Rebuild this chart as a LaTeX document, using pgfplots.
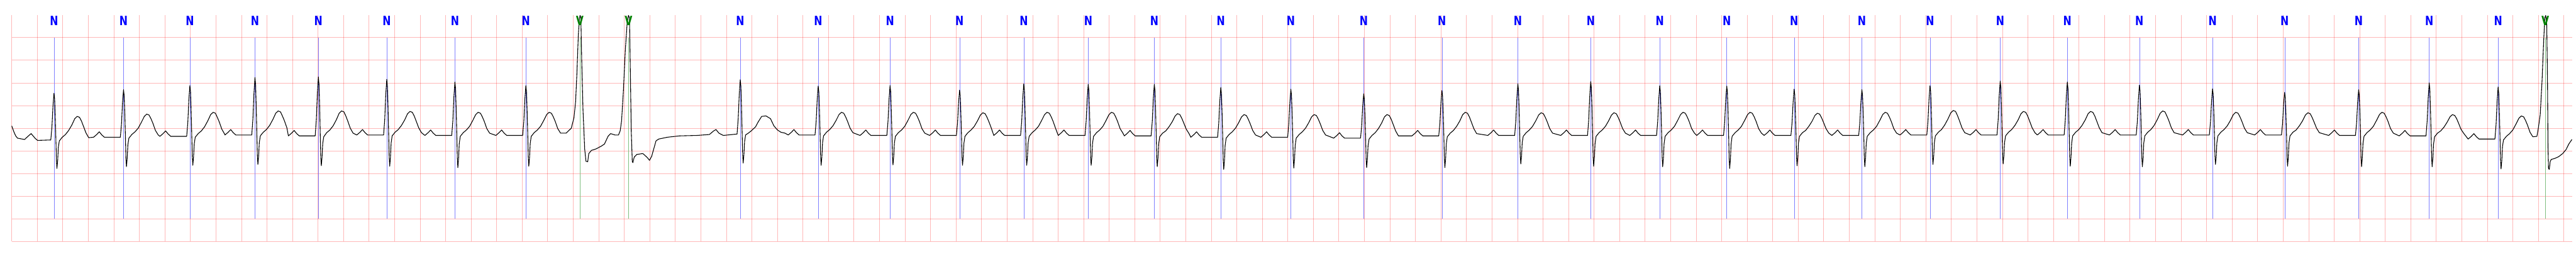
\documentclass[border=0pt]{standalone}
\usepackage{pgfplots}
\pgfplotsset{compat=1.18}
\usepackage{graphicx}
\usepackage{fontspec}
\newfontfamily\labfont{DejaVu Sans}
\begin{document}
\begin{tikzpicture}
\useasboundingbox (0,0) rectangle (752.3pt,75pt);
\begin{axis}[
  at={(3.43pt,4.43pt)}, anchor=south west,
  scale only axis, width=747.77pt, height=66.14pt,
  xmin=0, xmax=20.066, ymin=-2.5, ymax=2.495,
  xtick distance=0.2, ytick={-2.5,-2,-1.5,-1,-0.5,0,0.5,1,1.5,2},
  xticklabels={}, yticklabels={},
  major tick length=0pt,
  axis line style={draw=none},
  grid=major,
  grid style={red, opacity=0.28, line width=0.13pt},
  clip=false,
]
% beat annotation lines
\addplot[draw=none, mark=none,
  error bars/.cd, y dir=both, y fixed=2, error mark=none,
  error bar style={draw=blue!50, line width=0.07pt, solid}]
  coordinates {(0.331,0)(0.876,0)(1.396,0)(1.906,0)(2.403,0)(2.939,0)(3.473,0)(4.029,0)(5.709,0)(6.320,0)(6.883,0)(7.428,0)(7.931,0)(8.436,0)(8.954,0)(9.475,0)(10.024,0)(10.595,0)(11.208,0)(11.803,0)(12.374,0)(12.915,0)(13.440,0)(13.968,0)(14.499,0)(15.033,0)(15.583,0)(16.109,0)(16.674,0)(17.247,0)(17.812,0)(18.392,0)(18.945,0)(19.485,0)};
\addplot[draw=none, mark=none,
  error bars/.cd, y dir=both, y fixed=2, error mark=none,
  error bar style={draw={rgb,1:red,0.5;green,0.75;blue,0.5}, line width=0.07pt, solid}]
  coordinates {(4.452,0)(4.834,0)(19.855,0)};
% ECG trace
\addplot[black, line width=0.2pt, line join=round] coordinates {
(0.000,0.05)(0.018,-0.09)(0.031,-0.17)(0.045,-0.22)(0.100,-0.25)(0.127,-0.18)(0.152,-0.12)(0.182,-0.22)(0.202,-0.27)
(0.306,-0.26)(0.315,0.03)(0.323,0.48)(0.331,0.77)(0.336,0.65)(0.341,0.26)(0.346,-0.26)(0.350,-0.71)(0.354,-0.89)(0.360,-0.71)(0.365,-0.42)(0.373,-0.28)
(0.396,-0.20)(0.421,-0.14)(0.446,-0.05)(0.471,0.07)(0.494,0.21)(0.513,0.26)(0.531,0.24)(0.546,0.16)(0.561,0.05)(0.581,-0.10)(0.603,-0.21)
(0.641,-0.20)(0.666,-0.14)(0.686,-0.08)(0.706,-0.15)(0.726,-0.20)
(0.851,-0.20)(0.860,0.09)(0.868,0.56)(0.876,0.85)(0.881,0.72)(0.886,0.33)(0.891,-0.20)(0.895,-0.66)(0.899,-0.85)(0.905,-0.66)(0.910,-0.37)(0.918,-0.22)
(0.941,-0.14)(0.966,-0.08)(0.991,0.00)(1.016,0.13)(1.039,0.26)(1.058,0.31)(1.076,0.29)(1.091,0.21)(1.106,0.11)(1.126,-0.05)(1.148,-0.15)
(1.161,-0.18)(1.186,-0.12)(1.206,-0.06)(1.226,-0.13)(1.246,-0.18)
(1.371,-0.18)(1.380,0.13)(1.388,0.63)(1.396,0.94)(1.401,0.81)(1.406,0.38)(1.411,-0.18)(1.415,-0.63)(1.419,-0.82)(1.425,-0.63)(1.430,-0.35)(1.438,-0.20)
(1.461,-0.12)(1.486,-0.06)(1.511,0.03)(1.536,0.16)(1.559,0.30)(1.578,0.35)(1.596,0.33)(1.611,0.24)(1.626,0.14)(1.646,-0.02)(1.668,-0.13)
(1.671,-0.15)(1.696,-0.09)(1.716,-0.03)(1.736,-0.10)(1.756,-0.15)
(1.881,-0.15)(1.890,0.21)(1.898,0.76)(1.906,1.12)(1.911,0.97)(1.916,0.49)(1.921,-0.15)(1.925,-0.61)(1.929,-0.80)(1.935,-0.61)(1.940,-0.32)(1.948,-0.17)
(1.971,-0.09)(1.996,-0.03)(2.021,0.06)(2.046,0.19)(2.069,0.33)(2.088,0.38)(2.106,0.36)(2.121,0.27)(2.136,0.17)(2.156,0.01)
(2.168,-0.17)(2.193,-0.11)(2.213,-0.05)(2.233,-0.12)(2.253,-0.17)
(2.378,-0.17)(2.387,0.19)(2.395,0.77)(2.403,1.13)(2.408,0.97)(2.413,0.48)(2.418,-0.17)(2.422,-0.64)(2.426,-0.83)(2.432,-0.64)(2.437,-0.34)(2.445,-0.19)
(2.468,-0.10)(2.493,-0.04)(2.518,0.05)(2.543,0.18)(2.566,0.33)(2.585,0.38)(2.603,0.36)(2.618,0.27)(2.633,0.16)(2.653,0.00)(2.675,-0.11)
(2.704,-0.15)(2.729,-0.09)(2.749,-0.03)(2.769,-0.10)(2.789,-0.15)
(2.914,-0.15)(2.923,0.19)(2.931,0.74)(2.939,1.08)(2.944,0.93)(2.949,0.47)(2.954,-0.15)(2.958,-0.64)(2.962,-0.84)(2.968,-0.64)(2.973,-0.33)(2.981,-0.17)
(3.004,-0.09)(3.029,-0.03)(3.054,0.06)(3.079,0.18)(3.102,0.32)(3.121,0.37)(3.139,0.35)(3.154,0.27)(3.169,0.16)(3.189,0.01)(3.211,-0.10)
(3.238,-0.16)(3.263,-0.10)(3.283,-0.04)(3.303,-0.11)(3.323,-0.16)
(3.448,-0.16)(3.457,0.17)(3.465,0.69)(3.473,1.02)(3.478,0.88)(3.483,0.43)(3.488,-0.16)(3.492,-0.66)(3.496,-0.87)(3.502,-0.66)(3.507,-0.34)(3.515,-0.18)
(3.538,-0.10)(3.563,-0.04)(3.588,0.04)(3.613,0.17)(3.636,0.30)(3.655,0.35)(3.673,0.33)(3.688,0.25)(3.703,0.15)(3.723,-0.01)(3.745,-0.11)
(3.794,-0.16)(3.819,-0.10)(3.839,-0.04)(3.859,-0.11)(3.879,-0.16)
(4.004,-0.16)(4.013,0.15)(4.021,0.63)(4.029,0.94)(4.034,0.81)(4.039,0.39)(4.044,-0.16)(4.048,-0.64)(4.052,-0.84)(4.058,-0.64)(4.063,-0.34)(4.071,-0.18)
(4.094,-0.10)(4.119,-0.04)(4.144,0.04)(4.169,0.17)(4.192,0.30)(4.211,0.35)(4.229,0.33)(4.244,0.25)(4.259,0.15)(4.279,-0.01)(4.301,-0.11)
(4.344,-0.11)(4.385,0.00)(4.406,0.23)(4.419,0.59)(4.429,1.21)(4.440,2.04)(4.448,2.40)(4.454,2.49)(4.460,2.44)(4.467,1.46)(4.477,0.38)(4.484,-0.06)(4.490,-0.46)(4.500,-0.73)(4.514,-0.74)(4.522,-0.56)(4.543,-0.49)(4.577,-0.46)(4.618,-0.40)(4.645,-0.35)(4.673,-0.18)(4.693,-0.12)(4.727,-0.15)(4.755,-0.15)
(4.768,-0.06)(4.779,0.16)(4.793,0.81)(4.809,1.75)(4.823,2.33)(4.833,2.49)(4.841,2.44)(4.848,1.21)(4.855,-0.06)(4.863,-0.74)(4.868,-0.76)(4.878,-0.64)(4.898,-0.58)(4.946,-0.56)(4.981,-0.65)(4.998,-0.71)(5.015,-0.62)(5.035,-0.42)(5.049,-0.28)(5.070,-0.24)(5.138,-0.20)(5.234,-0.17)(5.371,-0.16)(5.467,-0.14)(5.501,-0.06)(5.519,-0.03)(5.542,-0.11)(5.576,-0.16)(5.684,-0.13)
(5.693,0.21)(5.701,0.73)(5.709,1.07)(5.714,0.93)(5.719,0.47)(5.724,-0.13)(5.728,-0.58)(5.732,-0.77)(5.738,-0.58)(5.743,-0.30)(5.751,-0.15)
(5.772,-0.11)(5.795,-0.06)(5.829,0.03)(5.850,0.14)(5.877,0.26)(5.911,0.27)(5.946,0.21)(5.973,0.05)(6.001,-0.04)(6.028,-0.09)(6.060,-0.11)
(6.085,-0.15)(6.110,-0.09)(6.130,-0.03)(6.150,-0.10)(6.170,-0.15)
(6.295,-0.15)(6.304,0.15)(6.312,0.63)(6.320,0.93)(6.325,0.80)(6.330,0.39)(6.335,-0.15)(6.339,-0.63)(6.343,-0.82)(6.349,-0.63)(6.354,-0.32)(6.362,-0.17)
(6.385,-0.09)(6.410,-0.03)(6.435,0.05)(6.460,0.17)(6.483,0.30)(6.502,0.35)(6.520,0.33)(6.535,0.25)(6.550,0.15)(6.570,0.00)(6.592,-0.10)
(6.648,-0.16)(6.673,-0.10)(6.693,-0.04)(6.713,-0.11)(6.733,-0.16)
(6.858,-0.16)(6.867,0.15)(6.875,0.63)(6.883,0.94)(6.888,0.81)(6.893,0.39)(6.898,-0.16)(6.902,-0.62)(6.906,-0.81)(6.912,-0.62)(6.917,-0.33)(6.925,-0.18)
(6.948,-0.10)(6.973,-0.04)(6.998,0.04)(7.023,0.17)(7.046,0.30)(7.065,0.35)(7.083,0.33)(7.098,0.25)(7.113,0.15)(7.133,-0.01)(7.155,-0.11)
(7.193,-0.16)(7.218,-0.10)(7.238,-0.04)(7.258,-0.11)(7.278,-0.16)
(7.403,-0.16)(7.412,0.12)(7.420,0.56)(7.428,0.84)(7.433,0.72)(7.438,0.34)(7.443,-0.16)(7.447,-0.63)(7.451,-0.82)(7.457,-0.63)(7.462,-0.33)(7.470,-0.18)
(7.493,-0.10)(7.518,-0.04)(7.543,0.04)(7.568,0.16)(7.591,0.29)(7.610,0.34)(7.628,0.32)(7.643,0.24)(7.658,0.14)(7.678,-0.01)
(7.696,-0.16)(7.721,-0.10)(7.741,-0.04)(7.761,-0.11)(7.781,-0.16)
(7.906,-0.16)(7.915,0.16)(7.923,0.66)(7.931,0.98)(7.936,0.84)(7.941,0.41)(7.946,-0.16)(7.950,-0.63)(7.954,-0.82)(7.960,-0.63)(7.965,-0.33)(7.973,-0.18)
(7.996,-0.10)(8.021,-0.04)(8.046,0.04)(8.071,0.17)(8.094,0.30)(8.113,0.35)(8.131,0.33)(8.146,0.25)(8.161,0.15)(8.181,-0.01)
(8.201,-0.16)(8.226,-0.10)(8.246,-0.04)(8.266,-0.11)(8.286,-0.16)
(8.411,-0.16)(8.420,0.16)(8.428,0.65)(8.436,0.97)(8.441,0.83)(8.446,0.41)(8.451,-0.16)(8.455,-0.63)(8.459,-0.82)(8.465,-0.63)(8.470,-0.33)(8.478,-0.18)
(8.501,-0.10)(8.526,-0.04)(8.551,0.04)(8.576,0.17)(8.599,0.30)(8.618,0.35)(8.636,0.33)(8.651,0.25)(8.666,0.15)(8.686,-0.01)(8.708,-0.11)
(8.719,-0.17)(8.744,-0.11)(8.764,-0.05)(8.784,-0.12)(8.804,-0.17)
(8.929,-0.17)(8.938,0.15)(8.946,0.65)(8.954,0.97)(8.959,0.83)(8.964,0.40)(8.969,-0.17)(8.973,-0.65)(8.977,-0.85)(8.983,-0.65)(8.988,-0.35)(8.996,-0.19)
(9.019,-0.11)(9.044,-0.06)(9.069,0.03)(9.094,0.14)(9.117,0.27)(9.136,0.32)(9.154,0.30)(9.169,0.22)(9.184,0.12)(9.204,-0.02)(9.226,-0.12)
(9.240,-0.20)(9.265,-0.14)(9.285,-0.08)(9.305,-0.15)(9.325,-0.20)
(9.450,-0.20)(9.459,0.11)(9.467,0.59)(9.475,0.90)(9.480,0.77)(9.485,0.35)(9.490,-0.20)(9.494,-0.70)(9.498,-0.91)(9.504,-0.70)(9.509,-0.38)(9.517,-0.22)
(9.540,-0.14)(9.565,-0.08)(9.590,0.00)(9.615,0.12)(9.638,0.25)(9.657,0.30)(9.675,0.28)(9.690,0.20)(9.705,0.10)(9.725,-0.05)(9.747,-0.15)
(9.789,-0.20)(9.814,-0.14)(9.834,-0.08)(9.854,-0.15)(9.874,-0.20)
(9.999,-0.20)(10.008,0.10)(10.016,0.56)(10.024,0.86)(10.029,0.73)(10.034,0.33)(10.039,-0.20)(10.043,-0.68)(10.047,-0.88)(10.053,-0.68)(10.058,-0.38)(10.066,-0.22)
(10.089,-0.14)(10.114,-0.08)(10.139,0.00)(10.164,0.12)(10.187,0.25)(10.206,0.30)(10.224,0.28)(10.239,0.20)(10.254,0.10)(10.274,-0.05)(10.296,-0.15)
(10.360,-0.22)(10.385,-0.16)(10.405,-0.10)(10.425,-0.17)(10.445,-0.22)
(10.570,-0.22)(10.579,0.05)(10.587,0.49)(10.595,0.76)(10.600,0.64)(10.605,0.27)(10.610,-0.22)(10.614,-0.68)(10.618,-0.87)(10.624,-0.68)(10.629,-0.39)(10.637,-0.24)
(10.660,-0.16)(10.685,-0.10)(10.710,-0.01)(10.735,0.11)(10.758,0.25)(10.777,0.30)(10.795,0.28)(10.810,0.20)(10.825,0.09)(10.845,-0.06)(10.867,-0.17)
(10.973,-0.17)(10.998,-0.11)(11.018,-0.05)(11.038,-0.12)(11.058,-0.17)
(11.183,-0.17)(11.192,0.11)(11.200,0.55)(11.208,0.83)(11.213,0.71)(11.218,0.33)(11.223,-0.17)(11.227,-0.67)(11.231,-0.87)(11.237,-0.67)(11.242,-0.35)(11.250,-0.19)
(11.273,-0.11)(11.298,-0.05)(11.323,0.04)(11.348,0.16)(11.371,0.30)(11.390,0.35)(11.408,0.33)(11.423,0.25)(11.438,0.14)(11.458,-0.01)(11.480,-0.12)
(11.568,-0.16)(11.593,-0.10)(11.613,-0.04)(11.633,-0.11)(11.653,-0.16)
(11.778,-0.16)(11.787,0.16)(11.795,0.66)(11.803,0.98)(11.808,0.84)(11.813,0.41)(11.818,-0.16)(11.822,-0.61)(11.826,-0.79)(11.832,-0.61)(11.837,-0.32)(11.845,-0.18)
(11.868,-0.10)(11.893,-0.04)(11.918,0.04)(11.943,0.16)(11.966,0.29)(11.985,0.34)(12.003,0.32)(12.018,0.24)(12.033,0.14)(12.053,-0.01)(12.075,-0.11)
(12.139,-0.16)(12.164,-0.10)(12.184,-0.04)(12.204,-0.11)(12.224,-0.16)
(12.349,-0.16)(12.358,0.17)(12.366,0.70)(12.374,1.03)(12.379,0.89)(12.384,0.44)(12.389,-0.16)(12.393,-0.64)(12.397,-0.84)(12.403,-0.64)(12.408,-0.34)(12.416,-0.18)
(12.439,-0.10)(12.464,-0.04)(12.489,0.04)(12.514,0.16)(12.537,0.29)(12.556,0.34)(12.574,0.32)(12.589,0.24)(12.604,0.14)(12.624,-0.01)(12.646,-0.11)
(12.680,-0.16)(12.705,-0.10)(12.725,-0.04)(12.745,-0.11)(12.765,-0.16)
(12.890,-0.16)(12.899,0.15)(12.907,0.63)(12.915,0.94)(12.920,0.81)(12.925,0.39)(12.930,-0.16)(12.934,-0.65)(12.938,-0.85)(12.944,-0.65)(12.949,-0.34)(12.957,-0.18)
(12.980,-0.10)(13.005,-0.04)(13.030,0.04)(13.055,0.17)(13.078,0.30)(13.097,0.35)(13.115,0.33)(13.130,0.25)(13.145,0.15)(13.165,-0.01)(13.187,-0.11)
(13.205,-0.16)(13.230,-0.10)(13.250,-0.04)(13.270,-0.11)(13.290,-0.16)
(13.415,-0.16)(13.424,0.15)(13.432,0.62)(13.440,0.93)(13.445,0.80)(13.450,0.39)(13.455,-0.16)(13.459,-0.68)(13.463,-0.89)(13.469,-0.68)(13.474,-0.35)(13.482,-0.18)
(13.505,-0.10)(13.530,-0.04)(13.555,0.04)(13.580,0.17)(13.603,0.30)(13.622,0.35)(13.640,0.33)(13.655,0.25)(13.670,0.15)(13.690,-0.01)(13.712,-0.11)
(13.733,-0.16)(13.758,-0.10)(13.778,-0.04)(13.798,-0.11)(13.818,-0.16)
(13.943,-0.16)(13.952,0.13)(13.960,0.57)(13.968,0.86)(13.973,0.74)(13.978,0.35)(13.983,-0.16)(13.987,-0.64)(13.991,-0.83)(13.997,-0.64)(14.002,-0.33)(14.010,-0.18)
(14.033,-0.10)(14.058,-0.05)(14.083,0.04)(14.108,0.15)(14.131,0.28)(14.150,0.33)(14.168,0.31)(14.183,0.23)(14.198,0.13)(14.218,-0.01)(14.240,-0.11)
(14.264,-0.16)(14.289,-0.10)(14.309,-0.04)(14.329,-0.11)(14.349,-0.16)
(14.474,-0.16)(14.483,0.12)(14.491,0.57)(14.499,0.85)(14.504,0.73)(14.509,0.35)(14.514,-0.16)(14.518,-0.65)(14.522,-0.85)(14.528,-0.65)(14.533,-0.34)(14.541,-0.18)
(14.564,-0.10)(14.589,-0.04)(14.614,0.04)(14.639,0.17)(14.662,0.30)(14.681,0.35)(14.699,0.33)(14.714,0.25)(14.729,0.15)(14.749,-0.01)(14.771,-0.11)
(14.798,-0.15)(14.823,-0.09)(14.843,-0.03)(14.863,-0.10)(14.883,-0.15)
(15.008,-0.15)(15.017,0.16)(15.025,0.63)(15.033,0.94)(15.038,0.81)(15.043,0.40)(15.048,-0.15)(15.052,-0.61)(15.056,-0.80)(15.062,-0.61)(15.067,-0.32)(15.075,-0.17)
(15.098,-0.09)(15.123,-0.03)(15.148,0.07)(15.173,0.20)(15.196,0.34)(15.215,0.39)(15.233,0.37)(15.248,0.28)(15.263,0.17)(15.283,0.01)(15.305,-0.10)
(15.348,-0.15)(15.373,-0.09)(15.393,-0.03)(15.413,-0.10)(15.433,-0.15)
(15.558,-0.15)(15.567,0.18)(15.575,0.71)(15.583,1.04)(15.588,0.90)(15.593,0.45)(15.598,-0.15)(15.602,-0.60)(15.606,-0.79)(15.612,-0.60)(15.617,-0.32)(15.625,-0.17)
(15.648,-0.09)(15.673,-0.03)(15.698,0.06)(15.723,0.18)(15.746,0.32)(15.765,0.37)(15.783,0.35)(15.798,0.27)(15.813,0.16)(15.833,0.01)(15.855,-0.10)
(15.874,-0.15)(15.899,-0.09)(15.919,-0.03)(15.939,-0.10)(15.959,-0.15)
(16.084,-0.15)(16.093,0.18)(16.101,0.69)(16.109,1.02)(16.114,0.88)(16.119,0.44)(16.124,-0.15)(16.128,-0.64)(16.132,-0.84)(16.138,-0.64)(16.143,-0.33)(16.151,-0.17)
(16.174,-0.09)(16.199,-0.03)(16.224,0.06)(16.249,0.18)(16.272,0.32)(16.291,0.37)(16.309,0.35)(16.324,0.27)(16.339,0.16)(16.359,0.01)(16.381,-0.10)
(16.439,-0.15)(16.464,-0.09)(16.484,-0.03)(16.504,-0.10)(16.524,-0.15)
(16.649,-0.15)(16.658,0.16)(16.666,0.64)(16.674,0.95)(16.679,0.82)(16.684,0.40)(16.689,-0.15)(16.693,-0.65)(16.697,-0.85)(16.703,-0.65)(16.708,-0.33)(16.716,-0.17)
(16.739,-0.09)(16.764,-0.03)(16.789,0.06)(16.814,0.19)(16.837,0.33)(16.856,0.38)(16.874,0.36)(16.889,0.27)(16.904,0.17)(16.924,0.01)(16.946,-0.10)
(17.012,-0.15)(17.037,-0.09)(17.057,-0.03)(17.077,-0.10)(17.097,-0.15)
(17.222,-0.15)(17.231,0.14)(17.239,0.58)(17.247,0.87)(17.252,0.75)(17.257,0.36)(17.262,-0.15)(17.266,-0.61)(17.270,-0.80)(17.276,-0.61)(17.281,-0.32)(17.289,-0.17)
(17.312,-0.09)(17.337,-0.03)(17.362,0.05)(17.387,0.17)(17.410,0.30)(17.429,0.35)(17.447,0.33)(17.462,0.25)(17.477,0.15)(17.497,0.00)(17.519,-0.10)
(17.577,-0.15)(17.602,-0.09)(17.622,-0.03)(17.642,-0.10)(17.662,-0.15)
(17.787,-0.15)(17.796,0.11)(17.804,0.53)(17.812,0.79)(17.817,0.68)(17.822,0.32)(17.827,-0.15)(17.831,-0.64)(17.835,-0.84)(17.841,-0.64)(17.846,-0.33)(17.854,-0.17)
(17.877,-0.09)(17.902,-0.04)(17.927,0.05)(17.952,0.16)(17.975,0.29)(17.994,0.34)(18.012,0.32)(18.027,0.24)(18.042,0.14)(18.062,0.00)(18.084,-0.10)
(18.157,-0.16)(18.182,-0.10)(18.202,-0.04)(18.222,-0.11)(18.242,-0.16)
(18.367,-0.16)(18.376,0.12)(18.384,0.57)(18.392,0.85)(18.397,0.73)(18.402,0.35)(18.407,-0.16)(18.411,-0.65)(18.415,-0.85)(18.421,-0.65)(18.426,-0.34)(18.434,-0.18)
(18.457,-0.10)(18.482,-0.04)(18.507,0.04)(18.532,0.17)(18.555,0.30)(18.574,0.35)(18.592,0.33)(18.607,0.25)(18.622,0.15)(18.642,-0.01)(18.664,-0.11)
(18.710,-0.17)(18.735,-0.11)(18.755,-0.05)(18.775,-0.12)(18.795,-0.17)
(18.920,-0.17)(18.929,0.16)(18.937,0.67)(18.945,1.00)(18.950,0.86)(18.955,0.42)(18.960,-0.17)(18.964,-0.65)(18.968,-0.85)(18.974,-0.65)(18.979,-0.35)(18.987,-0.19)
(19.010,-0.11)(19.035,-0.06)(19.060,0.02)(19.085,0.13)(19.108,0.25)(19.127,0.30)(19.145,0.28)(19.160,0.21)(19.175,0.11)(19.195,-0.03)(19.217,-0.12)
(19.250,-0.24)(19.275,-0.18)(19.295,-0.12)(19.315,-0.19)(19.335,-0.24)
(19.460,-0.24)(19.469,0.08)(19.477,0.59)(19.485,0.91)(19.490,0.77)(19.495,0.34)(19.500,-0.24)(19.504,-0.71)(19.508,-0.90)(19.514,-0.71)(19.519,-0.41)(19.527,-0.26)
(19.550,-0.18)(19.575,-0.12)(19.600,-0.04)(19.625,0.09)(19.648,0.22)(19.667,0.27)(19.685,0.25)(19.700,0.17)(19.715,0.07)(19.735,-0.09)(19.757,-0.19)
(19.789,-0.18)(19.799,-0.02)(19.815,0.30)(19.829,1.03)(19.842,1.93)(19.851,2.44)(19.858,2.49)(19.866,2.29)(19.872,1.03)(19.876,-0.42)(19.880,-0.89)(19.886,-0.91)(19.893,-0.74)(19.901,-0.69)(19.927,-0.67)(19.959,-0.63)(19.991,-0.56)(20.018,-0.47)(20.039,-0.35)(20.063,-0.25)
};
% beat labels
\addplot[draw=none, mark=none,
  nodes near coords={\scalebox{0.77}[1]{N}},
  nodes near coords align={anchor=north},
  every node near coord/.append style={inner sep=0pt, text=blue, font=\labfont\bfseries\fontsize{3.75}{4}\selectfont}]
  coordinates {(0.331,2.495)(0.876,2.495)(1.396,2.495)(1.906,2.495)(2.403,2.495)(2.939,2.495)(3.473,2.495)(4.029,2.495)(5.709,2.495)(6.320,2.495)(6.883,2.495)(7.428,2.495)(7.931,2.495)(8.436,2.495)(8.954,2.495)(9.475,2.495)(10.024,2.495)(10.595,2.495)(11.208,2.495)(11.803,2.495)(12.374,2.495)(12.915,2.495)(13.440,2.495)(13.968,2.495)(14.499,2.495)(15.033,2.495)(15.583,2.495)(16.109,2.495)(16.674,2.495)(17.247,2.495)(17.812,2.495)(18.392,2.495)(18.945,2.495)(19.485,2.495)};
\addplot[draw=none, mark=none,
  nodes near coords={\scalebox{0.77}[1]{V}},
  nodes near coords align={anchor=north},
  every node near coord/.append style={inner sep=0pt, text={rgb,255:red,0;green,128;blue,0}, font=\labfont\bfseries\fontsize{3.75}{4}\selectfont}]
  coordinates {(4.452,2.495)(4.834,2.495)(19.855,2.495)};
\end{axis}
\end{tikzpicture}
\end{document}
